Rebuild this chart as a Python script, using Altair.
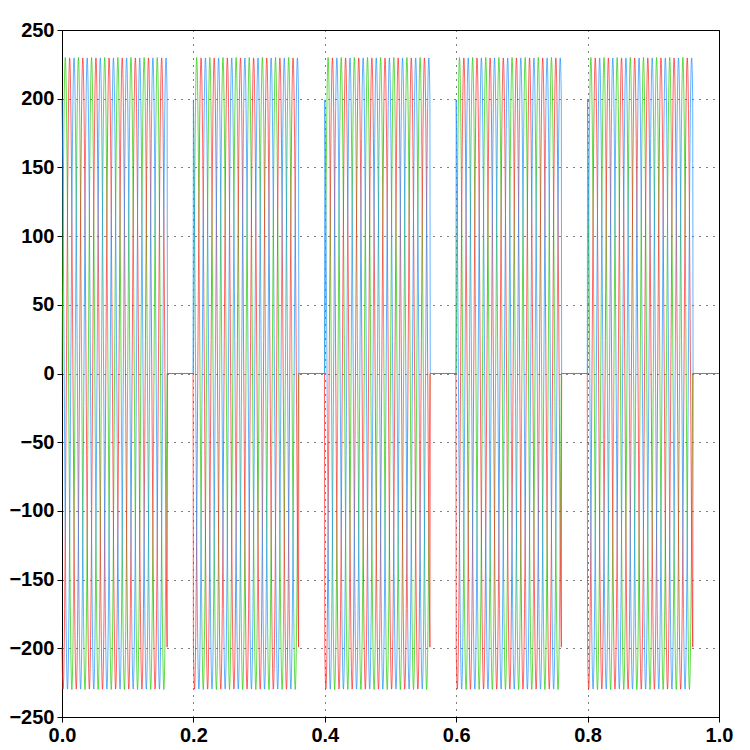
import altair as alt
import numpy as np
import pandas as pd

# ---- values ----
phase_names = ["A", "C", "B"]                    # drawing order: green, red, blue
phase_colors = ["#22cc00", "#ff2222", "#1e90ff"]
phase_shift_deg = [0, -120, 120]
amplitude = 230.0                         # peak value
frequency_hz = 50.0                       # cycles per second
burst_starts = [0.0, 0.2, 0.4, 0.6, 0.8]  # switching on
burst_ends = [0.16, 0.36, 0.56, 0.76, 0.96]  # switching off
sample_step = 0.0005
t_end = 1.0
x_ticks = [0.0, 0.2, 0.4, 0.6, 0.8, 1.0]
y_ticks = [-250, -200, -150, -100, -50, 0, 50, 100, 150, 200, 250]

# ---- build the table ----
t = np.round(np.arange(0, t_end + sample_step / 2, sample_step), 6)
on = np.zeros_like(t, dtype=bool)
for s, e in zip(burst_starts, burst_ends):
    on |= (t >= s - 1e-9) & (t <= e + 1e-9)

frames = []
for i, (name, shift) in enumerate(zip(phase_names, phase_shift_deg)):
    v = amplitude * np.sin(2 * np.pi * frequency_hz * t + np.deg2rad(shift))
    v = np.where(on, v, 0.0)
    frames.append(pd.DataFrame({"t": t, "v": v, "phase": name}))
df = pd.concat(frames, ignore_index=True)

font = "Liberation Sans, Arial, sans-serif"

base = alt.Chart(df).mark_line(strokeWidth=1, opacity=0.7, interpolate="linear").encode(
    x=alt.X(
        "t:Q",
        scale=alt.Scale(domain=[0, 1], nice=False),
        axis=alt.Axis(values=x_ticks, format=".1f", title=None, labelFlush=False),
    ),
    y=alt.Y(
        "v:Q",
        scale=alt.Scale(domain=[-250, 250], nice=False),
        axis=alt.Axis(values=y_ticks, title=None, labelFlush=False),
    ),
    color=alt.Color(
        "phase:N",
        scale=alt.Scale(domain=phase_names, range=phase_colors),
        legend=None,
    ),
)

layers = [base.transform_filter(alt.datum.phase == p) for p in phase_names]

chart = (
    alt.layer(*layers)
    .properties(
        width=657,
        height=687,
        autosize=alt.AutoSizeParams(type="none"),
        padding={"left": 62, "top": 30, "right": 31, "bottom": 33},
        background="white",
    )
    .configure_view(stroke="black", strokeWidth=1)
    .configure_axis(
        domainColor="black",
        domainWidth=1,
        tickColor="black",
        tickSize=5,
        tickWidth=1,
        grid=True,
        gridColor="black",
        gridDash=[1, 6],
        gridWidth=1,
        gridOpacity=1,
        labelFont=font,
        labelFontWeight="bold",
        labelFontSize=20,
        labelColor="black",
        labelPadding=3,
    )
)

chart.save("out.html", embed_options={"renderer": "svg", "actions": False})
